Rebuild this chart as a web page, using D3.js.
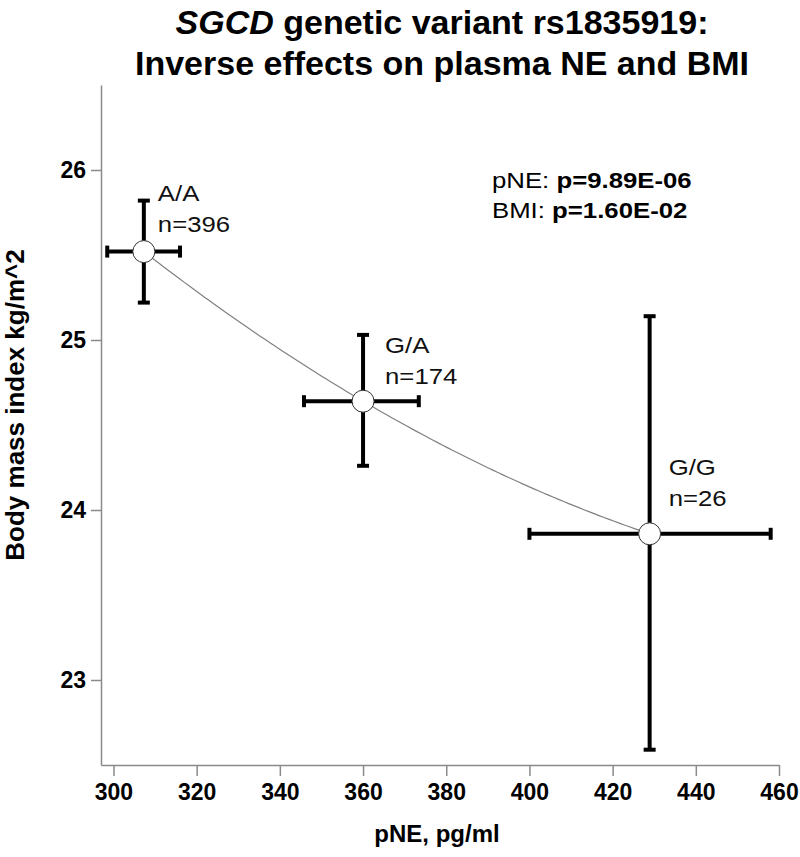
<!DOCTYPE html>
<html>
<head>
<meta charset="utf-8">
<script src="https://cdn.jsdelivr.net/npm/d3@7"></script>
<style>
  html, body { margin: 0; padding: 0; background: #fff; }
  svg { display: block; font-family: "Liberation Sans", Arial, sans-serif; }
</style>
</head>
<body>
<svg id="chart" width="800" height="857"></svg>
<script>
// ---- data ----
const genotypes = ["A/A", "G/A", "G/G"];
const counts = [396, 174, 26];
const pneMean = [307.3, 360.0, 428.9];
const pneLow  = [298.5, 345.8, 400.0];
const pneHigh = [316.0, 373.4, 458.0];
const bmiMean = [25.52, 24.64, 23.86];
const bmiLow  = [25.22, 24.26, 22.59];
const bmiHigh = [25.82, 25.03, 25.14];
const xTicks = [300, 320, 340, 360, 380, 400, 420, 440, 460];
const yTicks = [23, 24, 25, 26];
const pValues = [["pNE: ", "p=9.89E-06"], ["BMI: ", "p=1.60E-02"]];

// ---- layout ----
const svg = d3.select("#chart");
const x = d3.scaleLinear().domain([297, 460]).range([101, 779]);
const y = d3.scaleLinear().domain([22.5, 26.5]).range([765, 85]);
const axisColor = "#8a8a8a";
const stretch = 1.12;

// title
const title = svg.append("g").attr("font-weight", "bold").attr("font-size", 34).attr("fill", "#000");
const t1 = title.append("text").attr("x", 442).attr("y", 34).attr("text-anchor", "middle");
t1.append("tspan").attr("font-style", "italic").text("SGCD");
t1.append("tspan").text(" genetic variant rs1835919:");
title.append("text").attr("x", 442).attr("y", 75).attr("text-anchor", "middle")
  .text("Inverse effects on plasma NE and BMI");

// axes
const xAxis = d3.axisBottom(x).tickValues(xTicks).tickFormat(d3.format("d"))
  .tickSize(11).tickPadding(8).tickSizeOuter(0);
const gx = svg.append("g").attr("transform", `translate(0,${y(22.5)})`).call(xAxis);
const yAxis = d3.axisLeft(y).tickValues(yTicks).tickFormat(d3.format("d"))
  .tickSize(10).tickPadding(5).tickSizeOuter(0);
const gy = svg.append("g").attr("transform", `translate(${x(297)},0)`).call(yAxis);
[gx, gy].forEach(g => {
  g.select(".domain").attr("stroke", axisColor).attr("stroke-width", 1.5);
  g.selectAll(".tick line").attr("stroke", axisColor).attr("stroke-width", 1.5);
  g.selectAll(".tick text").attr("fill", "#000").attr("font-size", 23).attr("font-weight", "bold")
    .attr("font-family", "'Liberation Sans', Arial, sans-serif");
});

// axis titles
svg.append("text").attr("x", 437).attr("y", 842).attr("text-anchor", "middle")
  .attr("font-size", 24).attr("font-weight", "bold").text("pNE, pg/ml");
svg.append("text").attr("transform", `translate(24,405) rotate(-90)`).attr("text-anchor", "middle")
  .attr("font-size", 26).attr("font-weight", "bold").text("Body mass index kg/m^2");

// trend curve: quadratic through the three genotype means
const quad = xv => d3.sum(pneMean.map((xi, i) => {
  let term = bmiMean[i];
  pneMean.forEach((xj, j) => { if (j !== i) term *= (xv - xj) / (xi - xj); });
  return term;
}));
const xs = d3.range(0, 101).map(k => pneMean[0] + (pneMean[2] - pneMean[0]) * k / 100);
svg.append("path")
  .attr("d", d3.line().x(d => x(d)).y(d => y(quad(d)))(xs))
  .attr("fill", "none").attr("stroke", "#808080").attr("stroke-width", 1.2);

// error bars
const idx = d3.range(genotypes.length);
const bars = svg.append("g").attr("stroke", "#000").attr("stroke-width", 4);
const cap = 6;
idx.forEach(i => {
  const cx = x(pneMean[i]), cy = y(bmiMean[i]);
  bars.append("line").attr("x1", cx).attr("x2", cx).attr("y1", y(bmiLow[i])).attr("y2", y(bmiHigh[i]));
  bars.append("line").attr("x1", x(pneLow[i])).attr("x2", x(pneHigh[i])).attr("y1", cy).attr("y2", cy);
  [bmiLow[i], bmiHigh[i]].forEach(v =>
    bars.append("line").attr("x1", cx - cap).attr("x2", cx + cap).attr("y1", y(v)).attr("y2", y(v)));
  [pneLow[i], pneHigh[i]].forEach(v =>
    bars.append("line").attr("x1", x(v)).attr("x2", x(v)).attr("y1", cy - cap).attr("y2", cy + cap));
});

// points
svg.append("g").selectAll("circle").data(idx).join("circle")
  .attr("cx", i => x(pneMean[i])).attr("cy", i => y(bmiMean[i])).attr("r", 11)
  .attr("fill", "#fff").attr("stroke", "#333").attr("stroke-width", 1);

// point labels (offsets from the point, in pixels)
const labelOffsets = [[14, -51], [22, -48], [19, -59]];
idx.forEach(i => {
  const g = svg.append("g")
    .attr("transform", `translate(${x(pneMean[i]) + labelOffsets[i][0]},${y(bmiMean[i]) + labelOffsets[i][1]}) scale(${stretch},1)`)
    .attr("font-size", 23).attr("fill", "#111");
  g.append("text").attr("x", 0).attr("y", 0).text(genotypes[i]);
  g.append("text").attr("x", 0).attr("y", 31).text("n=" + counts[i]);
});

// p-value annotation
pValues.forEach((pv, k) => {
  const t = svg.append("g").attr("transform", `translate(492,${188 + 30 * k}) scale(${stretch},1)`)
    .append("text").attr("font-size", 23).attr("fill", "#000");
  t.append("tspan").text(pv[0]);
  t.append("tspan").attr("font-weight", "bold").text(pv[1]);
});
</script>
</body>
</html>
